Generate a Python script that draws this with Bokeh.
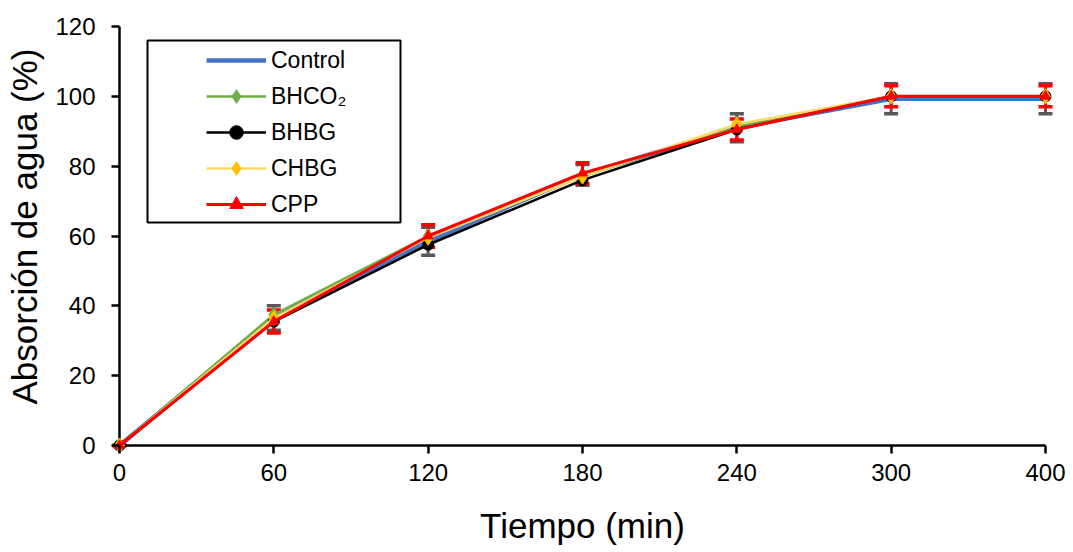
from bokeh.plotting import figure
from bokeh.models import (Range1d, ColumnDataSource, Whisker, TeeHead, Legend, LegendItem,
                          BoxAnnotation, FixedTicker)
from bokeh.embed import file_html
from bokeh.resources import INLINE

# ---- data ----
time_labels = ["0", "60", "120", "180", "240", "300", "400"]
control = [0, 36.5, 58.5, 77.5, 91.0, 99.3, 99.3]
control_err = [0, 3.5, 4.0, 3.0, 4.0, 4.3, 4.3]
bhco2 = [0, 37.5, 60.0, 77.0, 91.5, 100.0, 100.0]
bhbg = [0, 35.5, 57.5, 76.0, 90.5, 100.0, 100.0]
chbg = [0, 36.5, 59.5, 77.0, 92.0, 100.0, 100.0]
cpp = [0, 35.5, 60.0, 78.0, 90.5, 100.0, 100.0]
cpp_err = [0, 3.3, 3.2, 3.0, 3.0, 3.0, 3.0]
y_ticks = [0, 20, 40, 60, 80, 100, 120]

xs = list(range(len(time_labels)))
FONT = "Liberation Sans"
PXX = 926 / 6.0      # px per x unit
PXY = 419 / 120.0    # px per y unit

p = figure(width=1073, height=552, output_backend="svg", toolbar_location=None,
           x_range=Range1d(-8 / PXX, 6 + 8 / PXX), y_range=Range1d(-7 / PXY, 120 + 26 / PXY),
           min_border_left=111, min_border_right=20, min_border_top=0, min_border_bottom=100)
p.outline_line_color = None
p.xgrid.visible = False
p.ygrid.visible = False
p.background_fill_color = "white"
p.border_fill_color = "white"

# axes (lines drawn as segments at data 0, ticks from the frame edges)
for ax in (p.xaxis[0], p.yaxis[0]):
    ax.axis_line_color = None
    ax.major_tick_line_width = 2.5
    ax.major_tick_line_color = "black"
    ax.minor_tick_line_color = None
    ax.major_label_text_font = FONT
    ax.major_label_text_font_size = "24px"
    ax.major_label_text_color = "black"
    ax.axis_label_text_font = FONT
    ax.axis_label_text_font_size = "35px"
    ax.axis_label_text_font_style = "normal"
    ax.axis_label_text_color = "black"

p.xaxis.ticker = FixedTicker(ticks=xs)
p.xaxis.major_label_overrides = {i: t for i, t in enumerate(time_labels)}
p.xaxis.axis_label = "Tiempo (min)"
p.xaxis.major_tick_in = 7
p.xaxis.major_tick_out = 1
p.xaxis.major_label_standoff = 10
p.xaxis.axis_label_standoff = 22

p.yaxis.ticker = FixedTicker(ticks=y_ticks)
p.yaxis.axis_label = "Absorción de agua (%)"
p.yaxis.major_tick_in = 8
p.yaxis.major_tick_out = 0
p.yaxis.major_label_standoff = 16
p.yaxis.axis_label_standoff = 8

p.segment(x0=[xs[0]], y0=[0], x1=[xs[-1]], y1=[0], line_color="black", line_width=2.5)
p.segment(x0=[xs[0]], y0=[y_ticks[0]], x1=[xs[0]], y1=[y_ticks[-1]], line_color="black", line_width=2.5)

src = ColumnDataSource(dict(x=xs, control=control, bhco2=bhco2, bhbg=bhbg, chbg=chbg, cpp=cpp,
                            c_up=[v + e for v, e in zip(control, control_err)],
                            c_lo=[v - e for v, e in zip(control, control_err)],
                            p_up=[v + e for v, e in zip(cpp, cpp_err)],
                            p_lo=[v - e for v, e in zip(cpp, cpp_err)]))

# series
r_ctrl = p.line("x", "control", source=src, line_color="#4472C4", line_width=4.5)
r_bh_l = p.line("x", "bhco2", source=src, line_color="#70AD47", line_width=2.5)
r_bh_m = p.scatter("x", "bhco2", source=src, marker="diamond", size=15, fill_color="#70AD47", line_color="#70AD47")
r_bg_l = p.line("x", "bhbg", source=src, line_color="black", line_width=2.5)
r_bg_m = p.scatter("x", "bhbg", source=src, marker="circle", size=11, fill_color="black", line_color="black")
r_ch_l = p.line("x", "chbg", source=src, line_color="#FFD966", line_width=2.5)
r_ch_m = p.scatter("x", "chbg", source=src, marker="diamond", size=15, fill_color="#FFC000", line_color="#FFC000")
r_cp_l = p.line("x", "cpp", source=src, line_color="#FF0000", line_width=3)
r_cp_m = p.scatter("x", "cpp", source=src, marker="triangle", size=10, fill_color="#FF0000", line_color="#FF0000")

w1 = Whisker(base="x", upper="c_up", lower="c_lo", source=src, line_color="#595959", line_width=3,
             upper_head=TeeHead(size=14, line_color="#595959", line_width=3.5),
             lower_head=TeeHead(size=14, line_color="#595959", line_width=3.5))
w2 = Whisker(base="x", upper="p_up", lower="p_lo", source=src, line_color="#FF0000", line_width=3,
             upper_head=TeeHead(size=14, line_color="#FF0000", line_width=3.5),
             lower_head=TeeHead(size=14, line_color="#FF0000", line_width=3.5))
p.add_layout(w1)
p.add_layout(w2)

# legend frame
box = BoxAnnotation(left=28 / PXX, right=281 / PXX, top=405 / PXY, bottom=223 / PXY,
                    fill_color="white", fill_alpha=0.0, line_color="black", line_alpha=1.0,
                    line_width=2, level="overlay")
p.add_layout(box)

items = [
    LegendItem(label="Control", renderers=[r_ctrl]),
    LegendItem(label="BHCO\u2082", renderers=[r_bh_l, r_bh_m]),
    LegendItem(label="BHBG", renderers=[r_bg_l, r_bg_m]),
    LegendItem(label="CHBG", renderers=[r_ch_l, r_ch_m]),
    LegendItem(label="CPP", renderers=[r_cp_l, r_cp_m]),
]
legend = Legend(items=items, location=(95, 231), padding=5, spacing=2,
                glyph_width=60, glyph_height=34, label_height=24, label_standoff=5,
                label_text_font=FONT, label_text_font_size="23px", label_text_color="black",
                border_line_color=None, background_fill_alpha=0.0, margin=0)
p.add_layout(legend)

open("out.html", "w").write(file_html(p, INLINE))
